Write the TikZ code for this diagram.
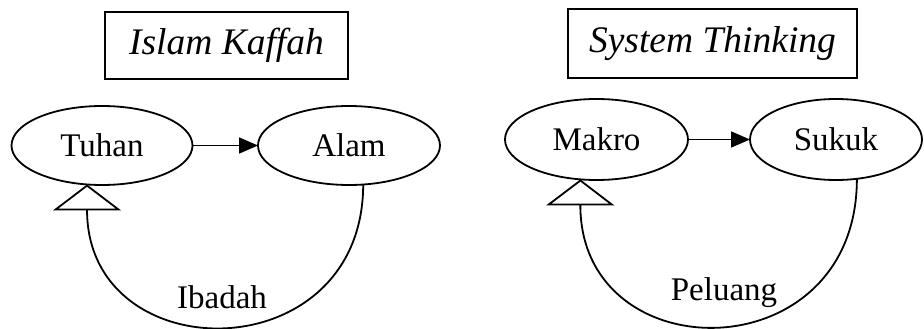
\documentclass[tikz,border=0pt]{standalone}
\usepackage{fontspec}
\setmainfont{Liberation Serif}
\usetikzlibrary{shapes.geometric,arrows.meta}
\begin{document}
\begin{tikzpicture}[x=1pt,y=-1pt,
  every node/.style={inner sep=0pt, outer sep=0pt},
  oval/.style={ellipse, draw, line width=1.8pt, font=\fontsize{33}{39}\selectfont},
  titlebox/.style={rectangle, draw, line width=1.9pt, font=\fontsize{37.5}{44}\selectfont\itshape},
  lbl/.style={font=\fontsize{33}{39}\selectfont},
  flow/.style={line width=1.8pt, -{Triangle[length=19pt,width=16pt]}},
  loop/.style={line width=1.8pt, -{Triangle[open,length=26pt,width=68pt]}}]
\fill[white] (0,0) rectangle (924,329);
\useasboundingbox (0,0) rectangle (924,329);
% left panel
\node[titlebox, minimum width=243pt, minimum height=67pt] (t1) at (226.5,45.5) {Islam Kaffah};
\node[oval, minimum width=181pt, minimum height=79pt] (tuhan) at (102,145.5) {Tuhan};
\node[oval, minimum width=182pt, minimum height=79pt] (alam) at (349,145.5) {Alam};
\draw[flow] (tuhan.east) -- (alam.west);
\draw[loop] (alam.-70) .. controls (363,372) and (87,372) .. (tuhan.-111);
\node[lbl] (ibadah) at (222,297) {Ibadah};
% right panel
\node[titlebox, minimum width=289pt, minimum height=69pt] (t2) at (712.5,43.5) {System Thinking};
\node[oval, minimum width=183pt, minimum height=81pt] (makro) at (596.5,139.5) {Makro};
\node[oval, minimum width=172pt, minimum height=81pt] (sukuk) at (836,139.5) {Sukuk};
\draw[flow] (makro.east) -- (sukuk.west);
\draw[loop] (sukuk.-62) .. controls (857,373) and (580,373) .. (makro.-112.5);
\node[lbl] (peluang) at (724,293) {Peluang};
\end{tikzpicture}
\end{document}
